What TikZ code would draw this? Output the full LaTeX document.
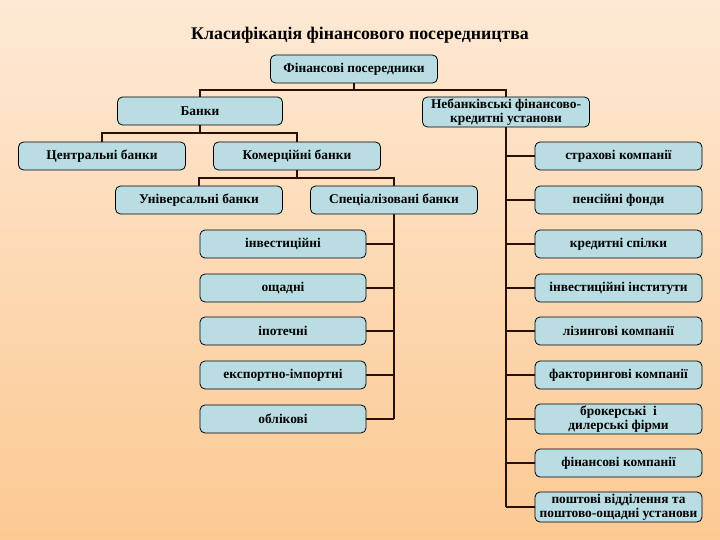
\documentclass[tikz,border=0pt]{standalone}
\usepackage{fontspec}
\setmainfont{Liberation Serif}
\definecolor{bgtop}{HTML}{FDE9D5}
\definecolor{bgbot}{HTML}{FCC992}
\definecolor{boxfill}{HTML}{B9DDE3}
\definecolor{linec}{HTML}{2A1000}
\begin{document}
\begin{tikzpicture}[x=1pt,y=-1pt,
  box/.style={draw=black, line width=0.8pt, fill=boxfill, rounded corners=5pt,
    minimum height=28pt, inner sep=1pt, align=center,
    font=\bfseries\fontsize{13.4}{13.6}\selectfont},
  wbox/.style={box, minimum width=167pt},
  conn/.style={draw=linec, line width=2.5pt}]
\shade[top color=bgtop,bottom color=bgbot] (0,0) rectangle (720,540);
\useasboundingbox (0,0) rectangle (720,540);

\node[font=\bfseries\fontsize{17.8}{20}\selectfont] (title) at (360,35) {Класифікація фінансового посередництва};

\node[wbox] (fp) at (354,69) {Фінансові посередники};
\node[wbox, minimum width=165pt] (banks) at (200,111) {Банки};
\node[wbox, minimum height=30pt, font=\bfseries\fontsize{13.4}{14.4}\selectfont] (nb) at (506,112) {Небанківські фінансово-\\кредитні установи};
\node[wbox] (cb) at (102,156) {Центральні банки};
\node[wbox] (kb) at (297,156) {Комерційні банки};
\node[wbox] (ub) at (199,200) {Універсальні банки};
\node[wbox] (sb) at (394,200) {Спеціалізовані банки};

\node[wbox, minimum width=166pt] (l1) at (283,244) {інвестиційні};
\node[wbox, minimum width=166pt] (l2) at (283,288) {ощадні};
\node[wbox, minimum width=166pt] (l3) at (283,331) {іпотечні};
\node[wbox, minimum width=166pt] (l4) at (283,375) {експортно-імпортні};
\node[wbox, minimum width=166pt] (l5) at (283,419) {облікові};

\node[wbox] (r1) at (618.5,156) {страхові компанії};
\node[wbox] (r2) at (618.5,200) {пенсійні фонди};
\node[wbox] (r3) at (618.5,244) {кредитні спілки};
\node[wbox] (r4) at (618.5,288) {інвестиційні інститути};
\node[wbox] (r5) at (618.5,331) {лізингові компанії};
\node[wbox] (r6) at (618.5,375) {факторингові компанії};
\node[wbox, minimum height=30pt] (r7) at (618.5,419) {брокерські \ і\\дилерські фірми};
\node[wbox] (r8) at (618.5,463) {фінансові компанії};
\node[wbox, minimum height=30pt] (r9) at (618.5,507) {};
\node[align=center, inner sep=0pt, font=\bfseries\fontsize{13.4}{13.6}\selectfont] (r9t) at (r9.center) {поштові відділення та\\поштово-ощадні установи};

% connectors
\coordinate (j1) at (354,90);
\draw[conn] (fp.south) -- (j1);
\draw[conn] (j1) -| (banks.north);
\draw[conn] (j1) -| (nb.north);

\coordinate (j2) at (200,133);
\draw[conn] (banks.south) -- (j2);
\draw[conn] (j2) -| (cb.north);
\draw[conn] (j2) -| (kb.north);

\coordinate (j3) at (297,178);
\draw[conn] (kb.south) -- (j3);
\draw[conn] (j3) -| (ub.north);
\draw[conn] (j3) -| (sb.north);

\coordinate (lend) at (394,419);
\draw[conn] (sb.south) -- (lend);
\foreach \n in {l1,l2,l3,l4,l5}
  \draw[conn] (\n.east) -- (sb.south |- \n.east);

\coordinate (rend) at (506,507);
\draw[conn] (nb.south) -- (rend);
\foreach \n in {r1,r2,r3,r4,r5,r6,r7,r8,r9}
  \draw[conn] (\n.west) -- (nb.south |- \n.west);
\end{tikzpicture}
\end{document}
